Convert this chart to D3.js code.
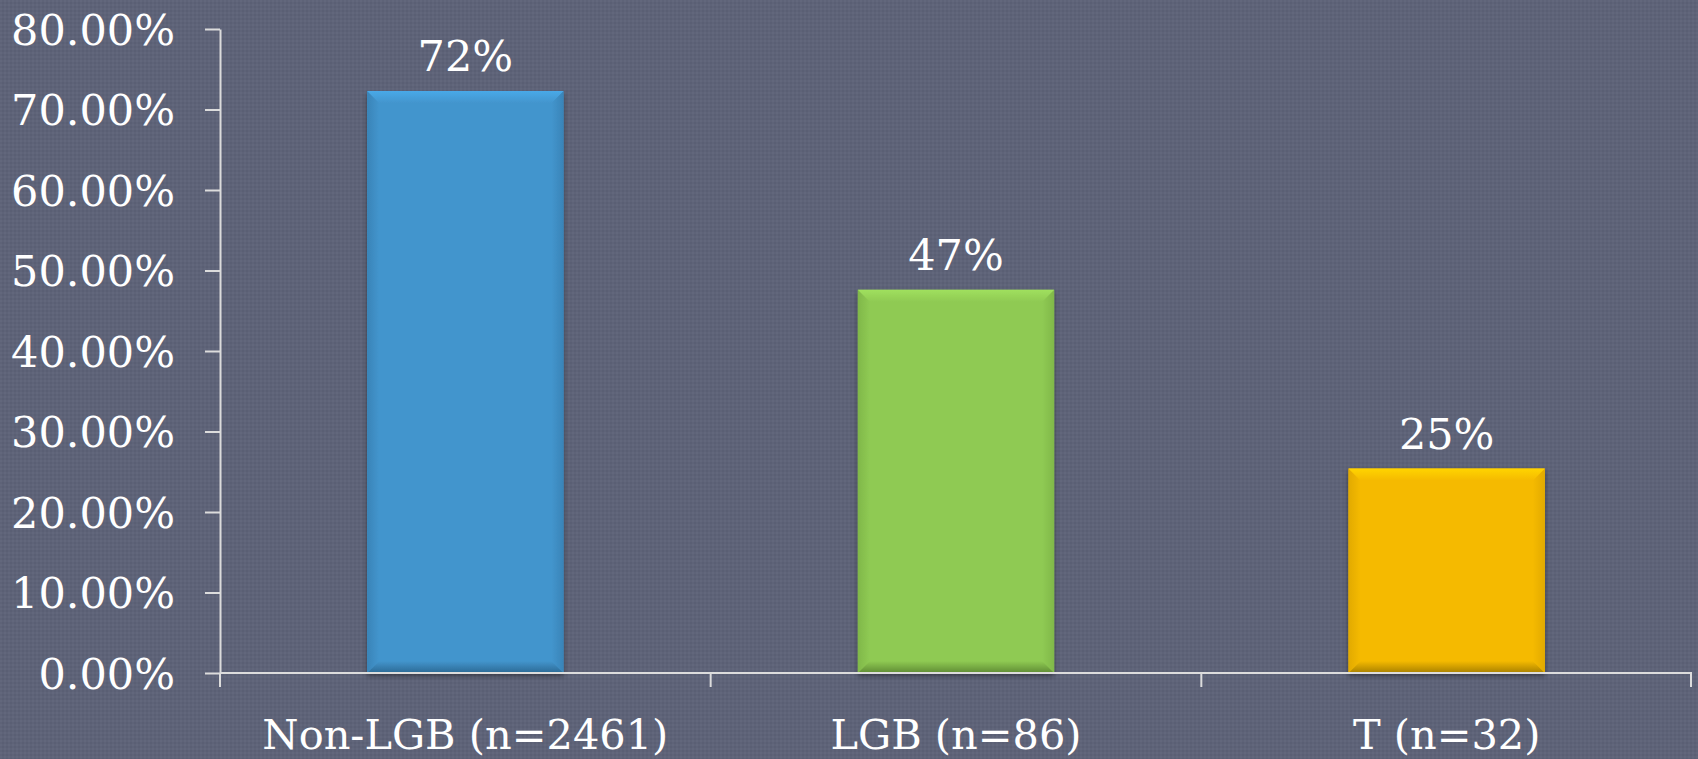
<!DOCTYPE html>
<html>
<head>
<meta charset="utf-8">
<script src="https://cdn.jsdelivr.net/npm/d3@7"></script>
<style>
  html, body { margin: 0; padding: 0; background: #5e6378; }
  svg { display: block; }
  text { font-family: "DejaVu Serif", serif; fill: #ffffff; }
</style>
</head>
<body>
<svg width="1698" height="759"></svg>
<script>
// categories and values
const categories = ["Non-LGB (n=2461)", "LGB (n=86)", "T (n=32)"];
const values     = [0.723, 0.476, 0.254];
const valueLabels = ["72%", "47%", "25%"];
const yTicks     = [0, 0.1, 0.2, 0.3, 0.4, 0.5, 0.6, 0.7, 0.8];

// bar colours: face, light top, dark bottom, side
const colors = [
  {face: "#4395cd", top: "#48a9e8", bottom: "#2c6a95", side: "#3984b8"},
  {face: "#8fca53", top: "#a0e05e", bottom: "#5f8c34", side: "#80b84a"},
  {face: "#f5ba00", top: "#ffd400", bottom: "#a88000", side: "#e2aa00"}
];

const svg = d3.select("svg");
const width  = +svg.attr("width");
const height = +svg.attr("height");

const margin = {left: 220, right: 6, top: 29, bottom: 86};
const x0 = margin.left, x1 = width - margin.right;
const yBase = height - margin.bottom;

// subtle textured background
const defs = svg.append("defs");
const pat = defs.append("pattern")
  .attr("id", "tex")
  .attr("width", 4).attr("height", 4)
  .attr("patternUnits", "userSpaceOnUse");
pat.append("rect").attr("width", 4).attr("height", 4).attr("fill", "#5e6378");
pat.append("rect").attr("width", 2).attr("height", 2).attr("fill", "#62677c");
pat.append("rect").attr("x", 2).attr("y", 2).attr("width", 2).attr("height", 2).attr("fill", "#5a5f74");

const shadow = defs.append("filter").attr("id", "shadow")
  .attr("x", "-10%").attr("y", "-10%").attr("width", "120%").attr("height", "120%");
shadow.append("feDropShadow")
  .attr("dx", 0).attr("dy", 3).attr("stdDeviation", 2.5)
  .attr("flood-color", "#000").attr("flood-opacity", 0.4);

// one gradient per bevel face per colour
function grad(id, x2, y2, c1, c2) {
  const lg = defs.append("linearGradient").attr("id", id)
    .attr("x1", 0).attr("y1", 0).attr("x2", x2).attr("y2", y2);
  lg.append("stop").attr("offset", 0).attr("stop-color", c1);
  lg.append("stop").attr("offset", 1).attr("stop-color", c2);
}
colors.forEach((col, i) => {
  grad("gt" + i, 0, 1, col.top, col.face);
  grad("gb" + i, 0, 1, col.face, col.bottom);
  grad("gl" + i, 1, 0, col.side, col.face);
  grad("gr" + i, 1, 0, col.face, col.side);
});

svg.append("rect").attr("width", width).attr("height", height).attr("fill", "url(#tex)");

// scales
const x = d3.scaleBand()
  .domain(categories)
  .range([x0, x1])
  .paddingInner(0.6)
  .paddingOuter(0.3);

const xEdges = d3.scaleBand().domain(categories).range([x0, x1]).padding(0);

const y = d3.scaleLinear()
  .domain([0, 0.8])
  .range([yBase, margin.top]);

// y axis
const yAxis = svg.append("g")
  .attr("transform", `translate(${x0},0)`)
  .call(d3.axisLeft(y)
    .tickValues(yTicks)
    .tickFormat(d3.format(".2%"))
    .tickSize(15)
    .tickSizeOuter(0)
    .tickPadding(30));
yAxis.select(".domain").attr("stroke", "#dcdcdc").attr("stroke-width", 2);
yAxis.selectAll(".tick line").attr("stroke", "#dcdcdc").attr("stroke-width", 2);
yAxis.selectAll(".tick text")
  .attr("fill", "#fff")
  .style("font-family", "'DejaVu Serif', serif")
  .style("font-size", "43px")
  .attr("dy", "0.36em");

// bars with soft bevel
const bev = 12;
const bars = svg.append("g").selectAll("g.bar")
  .data(categories)
  .join("g")
  .attr("class", "bar")
  .attr("filter", "url(#shadow)");

bars.each(function(c, i) {
  const g = d3.select(this);
  const bx = x(c), bw = x.bandwidth();
  const by = y(values[i]), bh = yBase - by;
  const col = colors[i];
  g.append("rect")
    .attr("x", bx).attr("y", by).attr("width", bw).attr("height", bh)
    .attr("fill", col.face);
  g.append("path")
    .attr("d", `M${bx},${by}L${bx + bev},${by + bev}L${bx + bev},${yBase - bev}L${bx},${yBase}Z`)
    .attr("fill", `url(#gl${i})`);
  g.append("path")
    .attr("d", `M${bx + bw},${by}L${bx + bw - bev},${by + bev}L${bx + bw - bev},${yBase - bev}L${bx + bw},${yBase}Z`)
    .attr("fill", `url(#gr${i})`);
  g.append("path")
    .attr("d", `M${bx},${by}L${bx + bw},${by}L${bx + bw - bev},${by + bev}L${bx + bev},${by + bev}Z`)
    .attr("fill", `url(#gt${i})`);
  g.append("path")
    .attr("d", `M${bx},${yBase}L${bx + bw},${yBase}L${bx + bw - bev},${yBase - bev}L${bx + bev},${yBase - bev}Z`)
    .attr("fill", `url(#gb${i})`);
});

// value labels
svg.append("g").selectAll("text")
  .data(categories)
  .join("text")
  .attr("x", d => x(d) + x.bandwidth() / 2)
  .attr("y", (d, i) => y(values[i]) - 20)
  .attr("text-anchor", "middle")
  .style("font-size", "43px")
  .text((d, i) => valueLabels[i]);

// x axis
const xAxis = svg.append("g");
xAxis.append("line")
  .attr("x1", x0).attr("x2", x1)
  .attr("y1", yBase).attr("y2", yBase)
  .attr("stroke", "#dcdcdc").attr("stroke-width", 2);
const edges = categories.map(c => xEdges(c)).concat([x1 - 1]);
xAxis.selectAll("line.edge")
  .data(edges)
  .join("line")
  .attr("class", "edge")
  .attr("x1", d => d).attr("x2", d => d)
  .attr("y1", yBase).attr("y2", yBase + 14)
  .attr("stroke", "#dcdcdc").attr("stroke-width", 2);
xAxis.selectAll("text")
  .data(categories)
  .join("text")
  .attr("x", d => x(d) + x.bandwidth() / 2)
  .attr("y", yBase + 76)
  .attr("text-anchor", "middle")
  .style("font-size", "41.5px")
  .text(d => d);
</script>
</body>
</html>
